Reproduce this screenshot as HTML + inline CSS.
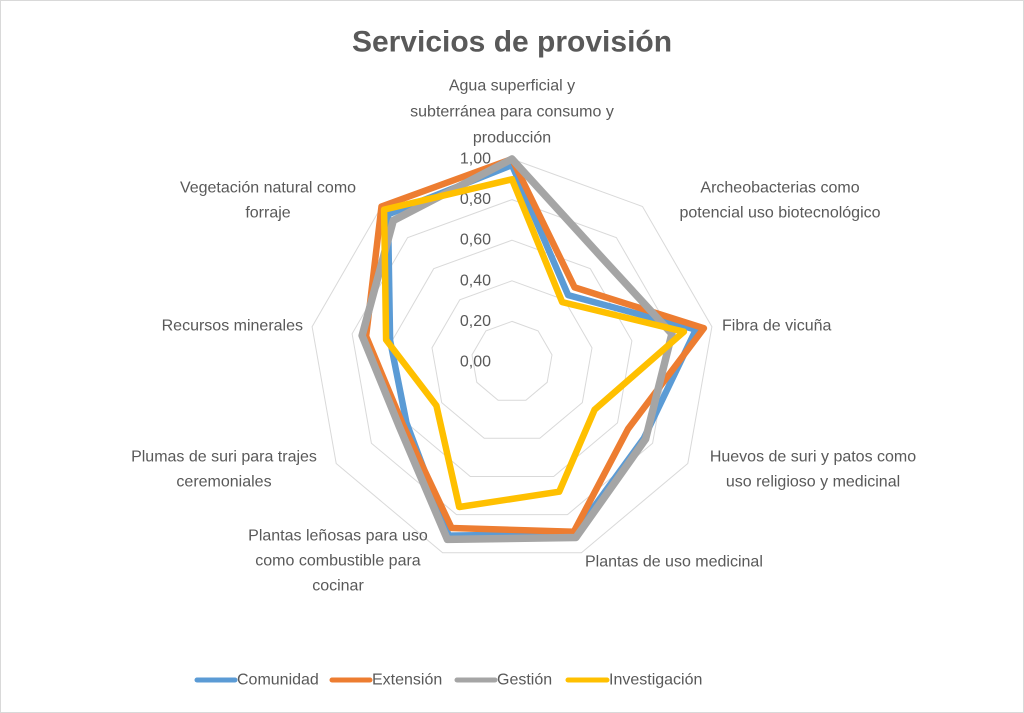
<!DOCTYPE html>
<html><head><meta charset="utf-8"><style>
html,body{margin:0;padding:0;background:#fff}
svg{display:block}
text{font-family:"Liberation Sans",sans-serif;fill:#595959}
</style></head><body>
<svg id="s" width="1024" height="713" viewBox="0 0 1024 713" xmlns="http://www.w3.org/2000/svg">
<rect x="0.5" y="0.5" width="1023" height="712" fill="#fff" stroke="#d9d9d9"/>
<text x="512" y="42" text-anchor="middle" dominant-baseline="central" font-size="30" font-weight="bold" fill="#595959">Servicios de provisión</text>
<g id="grid" fill="none" stroke="#d9d9d9" stroke-width="1"></g>
<g id="ticks" font-size="16" text-anchor="end"></g>
<g id="series" fill="none" stroke-linejoin="round"></g>
<g font-size="16" dominant-baseline="central">
<text x="512" y="86" text-anchor="middle">Agua superficial y</text>
<text x="512" y="112" text-anchor="middle">subterránea para consumo y</text>
<text x="512" y="138" text-anchor="middle">producción</text>
<text x="780" y="188" text-anchor="middle">Archeobacterias como</text>
<text x="780" y="213" text-anchor="middle">potencial uso biotecnológico</text>
<text x="722" y="326">Fibra de vicuña</text>
<text x="813" y="457" text-anchor="middle">Huevos de suri y patos como</text>
<text x="813" y="482" text-anchor="middle">uso religioso y medicinal</text>
<text x="585" y="562">Plantas de uso medicinal</text>
<text x="338" y="536" text-anchor="middle">Plantas leñosas para uso</text>
<text x="338" y="561" text-anchor="middle">como combustible para</text>
<text x="338" y="586" text-anchor="middle">cocinar</text>
<text x="224" y="457" text-anchor="middle">Plumas de suri para trajes</text>
<text x="224" y="482" text-anchor="middle">ceremoniales</text>
<text x="303" y="326" text-anchor="end">Recursos minerales</text>
<text x="268" y="188" text-anchor="middle">Vegetación natural como</text>
<text x="268" y="213" text-anchor="middle">forraje</text>
</g>
<g font-size="16" dominant-baseline="central">
<line x1="197" y1="680" x2="235" y2="680" stroke="#5b9bd5" stroke-width="5" stroke-linecap="round"/>
<text x="237" y="680">Comunidad</text>
<line x1="332" y1="680" x2="370" y2="680" stroke="#ed7d31" stroke-width="5" stroke-linecap="round"/>
<text x="372" y="680">Extensión</text>
<line x1="457" y1="680" x2="495" y2="680" stroke="#a5a5a5" stroke-width="5" stroke-linecap="round"/>
<text x="497" y="680">Gestión</text>
<line x1="568" y1="680" x2="607" y2="680" stroke="#ffc000" stroke-width="5" stroke-linecap="round"/>
<text x="609" y="680">Investigación</text>
</g>
</svg>
<script>
var cx=512,cy=362,R=203,NS="http://www.w3.org/2000/svg";
function pt(k,v){var a=k*40*Math.PI/180;return [cx+Math.sin(a)*R*v,cy-Math.cos(a)*R*v];}
function poly(vals){var p=[];for(var k=0;k<9;k++){var q=pt(k,vals[k]);p.push(q[0].toFixed(1)+","+q[1].toFixed(1));}return p.join(" ");}
var g=document.getElementById("grid");
for(var i=1;i<=5;i++){var e=document.createElementNS(NS,"polygon");e.setAttribute("points",poly([i/5,i/5,i/5,i/5,i/5,i/5,i/5,i/5,i/5]));g.appendChild(e);}
var t=document.getElementById("ticks");
for(var i=0;i<=5;i++){var e=document.createElementNS(NS,"text");e.setAttribute("x",491);e.setAttribute("y",cy-R*i/5);e.setAttribute("dominant-baseline","central");e.textContent=(i/5).toFixed(2).replace(".",",");t.appendChild(e);}
var data=[
["#5b9bd5",6.5,[0.97,0.43,0.92,0.75,0.90,0.91,0.60,0.61,0.95]],
["#ed7d31",6.5,[1.0,0.48,0.96,0.66,0.89,0.87,0.62,0.73,1.0]],
["#a5a5a5",7.5,[1.0,0.68,0.8,0.76,0.92,0.93,0.64,0.75,0.91]],
["#ffc000",6.5,[0.9,0.385,0.86,0.47,0.68,0.76,0.43,0.63,0.98]]
];
var s=document.getElementById("series");
data.forEach(function(d){var e=document.createElementNS(NS,"polygon");e.setAttribute("points",poly(d[2]));e.setAttribute("stroke",d[0]);e.setAttribute("stroke-width",d[1]);s.appendChild(e);});
</script>
</body></html>
